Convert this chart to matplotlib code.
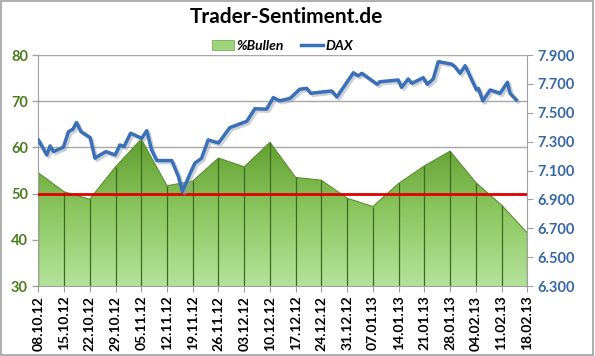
import numpy as np
import matplotlib
matplotlib.use('Agg')
import matplotlib.pyplot as plt
import matplotlib.patheffects as pe
from matplotlib.colors import LinearSegmentedColormap
from matplotlib.patches import Patch, Rectangle
from matplotlib.lines import Line2D

plt.rcParams['font.family'] = ['Lato', 'DejaVu Sans']

# Wochen-Kategorien
weeks = ['08.10.12', '15.10.12', '22.10.12', '29.10.12', '05.11.12', '12.11.12',
         '19.11.12', '26.11.12', '03.12.12', '10.12.12', '17.12.12', '24.12.12',
         '31.12.12', '07.01.13', '14.01.13', '21.01.13', '28.01.13', '04.02.13',
         '11.02.13', '18.02.13']
# %Bullen je Woche
bullen = [54.5, 50.4, 48.8, 55.8, 61.8, 51.7, 52.7, 57.7, 55.8, 61.1,
          53.5, 52.9, 49.0, 47.2, 52.2, 56.0, 59.2, 52.4, 47.5, 41.5]
# DAX: Tage seit 08.10.12 und Kurs
dax_day = [0, 2.3, 3.2, 4.1, 6.8, 8.2, 9.4, 10.4, 11.6, 14.1, 15.4, 16.8, 18.4,
           20.9, 22.2, 23.3, 25.1, 26.8, 28.1, 29.5, 30.8, 32.2, 36.3, 38.1,
           39.2, 41.3, 42.6, 44.4, 46.2, 49.0, 52.1, 56.7, 58.9, 62.1, 63.9,
           65.7, 68.5, 71.1, 73.0, 74.1, 79.8, 81.2, 85.7, 87.0, 88.0, 92.2,
           92.9, 97.9, 98.8, 100.6, 101.6, 104.7, 105.8, 107.4, 108.8, 112.4,
           113.3, 114.7, 116.1, 117.9, 119.2, 119.7, 120.9, 122.9, 125.6,
           127.6, 128.3, 130.0]
dax = [7312, 7208, 7270, 7231, 7261, 7369, 7386, 7432, 7369, 7328, 7185, 7208,
       7231, 7208, 7277, 7266, 7358, 7339, 7323, 7376, 7243, 7169, 7169, 7058,
       6954, 7081, 7151, 7185, 7312, 7291, 7397, 7441, 7528, 7525, 7605, 7583,
       7600, 7663, 7669, 7635, 7651, 7609, 7777, 7756, 7773, 7697, 7715, 7727,
       7676, 7734, 7704, 7743, 7697, 7734, 7854, 7837, 7820, 7773, 7826, 7727,
       7658, 7669, 7582, 7658, 7635, 7711, 7635, 7589]
schwelle = 50

fig = plt.figure(figsize=(5.95, 3.56), dpi=100)
fig.patch.set_facecolor('white')
fig.add_artist(Rectangle((0.002, 0.003), 0.995, 0.994, transform=fig.transFigure,
                         fill=False, edgecolor='#a0a0a0', lw=1.2))

ax = fig.add_axes([0.0644, 0.1966, 0.8218, 0.6489])
x = np.arange(len(weeks))

# Fläche mit Farbverlauf
cmap = LinearSegmentedColormap.from_list('gr', ['#b3e39a', '#8cc65f', '#5e9c2c'])
poly = ax.fill_between(x, 30, bullen, color='none', lw=0, zorder=1)
grad = np.linspace(0, 1, 256).reshape(-1, 1)
im = ax.imshow(grad, cmap=cmap, origin='lower', aspect='auto',
               extent=[0, len(weeks) - 1, 30, 62.5], zorder=1)
im.set_clip_path(poly.get_paths()[0], transform=ax.transData)
ax.plot(x, bullen, color='#5c8f30', lw=0.8, zorder=2)
ax.vlines(x, 30, bullen, color='#3e6a22', lw=0.9, zorder=2)

ax.axhline(schwelle, color='#e00000', lw=2, zorder=4)

ax.set_xlim(0, len(weeks) - 1)
ax.set_ylim(30, 80)
ax.set_yticks([30, 40, 50, 60, 70, 80])
ax.yaxis.grid(True, color='#a8a8a8', lw=1)
ax.set_axisbelow(True)
ax.set_xticks(x)
ax.set_xticklabels(weeks, rotation=90, fontsize=10, fontweight='bold')
ax.tick_params(axis='y', colors='#4b7d1e', labelsize=10.5, length=4, width=1)
ax.tick_params(axis='x', length=4, color='#a0a0a0', pad=3)
for lab in ax.get_yticklabels():
    lab.set_fontweight('bold')
for s in ['top', 'right']:
    ax.spines[s].set_visible(False)
ax.spines['left'].set_color('#a0a0a0')
ax.spines['bottom'].set_color('#a0a0a0')
ax.tick_params(axis='y', color='#a0a0a0')

ax2 = ax.twinx()
ax2.plot(np.array(dax_day) / 7, dax, color='#3a70b8', lw=2.5, zorder=5,
         solid_joinstyle='round',
         path_effects=[pe.SimpleLineShadow(offset=(1.5, -1.5), shadow_color='#9aa4b0', alpha=0.5),
                       pe.Normal()])
ax2.set_ylim(6300, 7900)
ax2.set_yticks(range(6300, 7901, 200))
ax2.set_yticklabels(['{:,}'.format(v).replace(',', '.') for v in range(6300, 7901, 200)])
ax2.tick_params(axis='y', colors='#3767a6', labelsize=10.5, length=4, color='#a0a0a0')
for lab in ax2.get_yticklabels():
    lab.set_fontweight('bold')
for s in ['top', 'left', 'bottom']:
    ax2.spines[s].set_visible(False)
ax2.spines['right'].set_color('#a0a0a0')

fig.text(0.482, 0.952, 'Trader-Sentiment.de', ha='center', va='center',
         fontsize=15, fontweight='bold')
handles = [Patch(facecolor='#9fd57c', edgecolor='#6aa040', lw=0.5),
           Line2D([], [], color='#3a70b8', lw=2.5)]
fig.legend(handles, ['%Bullen', 'DAX'], loc='center', bbox_to_anchor=(0.475, 0.872),
           ncol=2, frameon=False, handlelength=1.6, handletextpad=0.2, columnspacing=1.2,
           prop={'style': 'italic', 'weight': 'bold', 'size': 10})

fig.savefig('out.png', dpi=100)
